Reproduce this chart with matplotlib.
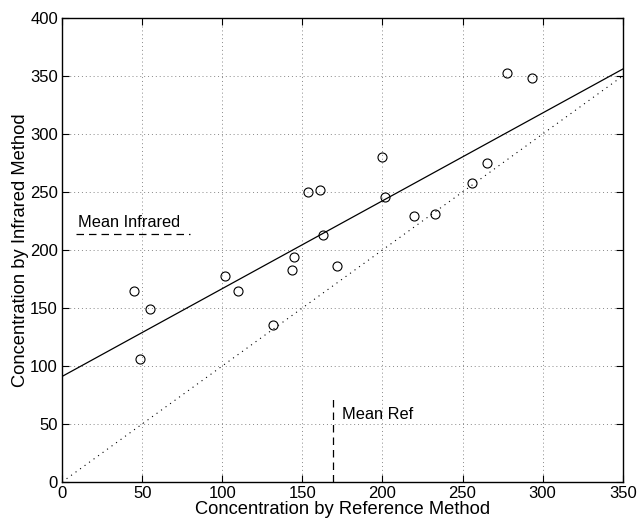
import matplotlib
matplotlib.use("Agg")
import matplotlib.pyplot as plt
import numpy as np

# paired measurements: reference method vs infrared method
ref_conc = [44.9, 48.7, 54.9, 101.7, 110.0, 131.8, 143.3, 144.9, 153.7, 161.3,
            163.0, 171.8, 199.8, 201.7, 220.0, 232.7, 255.6, 265.3, 277.8, 293.2]
ir_conc = [164.7, 106.3, 148.9, 177.3, 165.0, 135.6, 182.5, 194.2, 249.7, 251.3,
           212.9, 186.5, 280.2, 246.0, 229.3, 231.3, 258.0, 274.7, 352.6, 348.5]

fit_intercept = 91.0
fit_slope = 0.757
mean_ref = 169.0
mean_ir = 214.0

plt.rcParams["font.family"] = ["Liberation Sans", "DejaVu Sans"]

fig = plt.figure(figsize=(6.4, 5.23), dpi=100)
ax = fig.add_axes([0.097, 0.0784, 0.876, 0.8872])

xs = np.array([0, 350])
ax.plot(xs, fit_intercept + fit_slope * xs, color="black", lw=0.9)
ax.plot(xs, xs, color="black", lw=0.8, linestyle=(0, (1, 4)))
ax.plot(ref_conc, ir_conc, "o", mfc="none", mec="black", ms=6.5, mew=0.8)

# mean markers
ax.plot([9, 80], [mean_ir, mean_ir], color="black", lw=0.9, linestyle=(0, (6, 4)))
ax.text(10, 224, "Mean Infrared", fontsize=11.8, va="center", ha="left")
ax.plot([mean_ref, mean_ref], [0, 72], color="black", lw=0.9, linestyle=(0, (6, 4)))
ax.text(174.5, 58.6, "Mean Ref", fontsize=11.8, va="center", ha="left")

ax.set_xlim(0, 350)
ax.set_ylim(0, 400)
ax.set_xticks(np.arange(0, 351, 50))
ax.set_yticks(np.arange(0, 401, 50))
ax.grid(True, color="#888888", linestyle=(0, (1, 3)), lw=0.7)
ax.tick_params(direction="in", top=True, right=True, labelsize=12, length=5,
               width=0.8, pad=3)
for s in ax.spines.values():
    s.set_linewidth(1.0)

ax.set_xlabel("Concentration by Reference Method", fontsize=13.2, labelpad=0)
ax.set_ylabel("Concentration by Infrared Method", fontsize=13.2, labelpad=1)

fig.savefig("out.png", dpi=100)
